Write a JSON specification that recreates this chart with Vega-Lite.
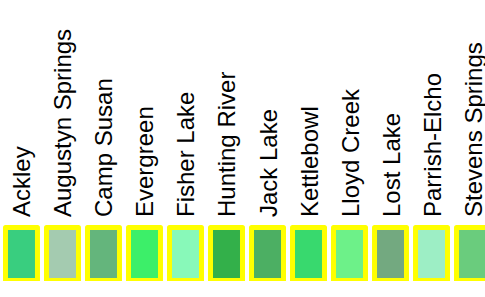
{
  "$schema": "https://vega.github.io/schema/vega-lite/v6.json",
  "autosize": {"type": "none"},
  "padding": {"left": 0, "top": 227.5, "right": 0, "bottom": 0},
  "width": 494,
  "height": 53,
  "background": "white",
  "config": {"view": {"stroke": null}},
  "data": {"values": [
    {"site": "Ackley", "color": "#39CE7F"},
    {"site": "Augustyn Springs", "color": "#A4CBB0"},
    {"site": "Camp Susan", "color": "#64B57C"},
    {"site": "Evergreen", "color": "#3CEF69"},
    {"site": "Fisher Lake", "color": "#88F9B9"},
    {"site": "Hunting River", "color": "#33B04A"},
    {"site": "Jack Lake", "color": "#4CAF63"},
    {"site": "Kettlebowl", "color": "#38D96E"},
    {"site": "Lloyd Creek", "color": "#6DF189"},
    {"site": "Lost Lake", "color": "#73A980"},
    {"site": "Parrish-Elcho", "color": "#9DEEC5"},
    {"site": "Stevens Springs", "color": "#6ACC7D"}
  ]},
  "mark": {"type": "rect", "stroke": "#FFFF00", "strokeWidth": 5, "strokeJoin": "round"},
  "encoding": {
    "x": {
      "field": "site", "type": "nominal", "sort": null,
      "scale": {"paddingInner": 0.22, "paddingOuter": 0.134},
      "axis": {
        "orient": "top", "title": null, "domain": false, "ticks": false,
        "labelAngle": -90, "labelPadding": 11, "labelOffset": 2, "labelFont": "Liberation Sans",
        "labelFontSize": 24, "labelColor": "black", "labelLimit": 0
      }
    },
    "fill": {"field": "color", "type": "nominal", "scale": null, "legend": null}
  }
}
